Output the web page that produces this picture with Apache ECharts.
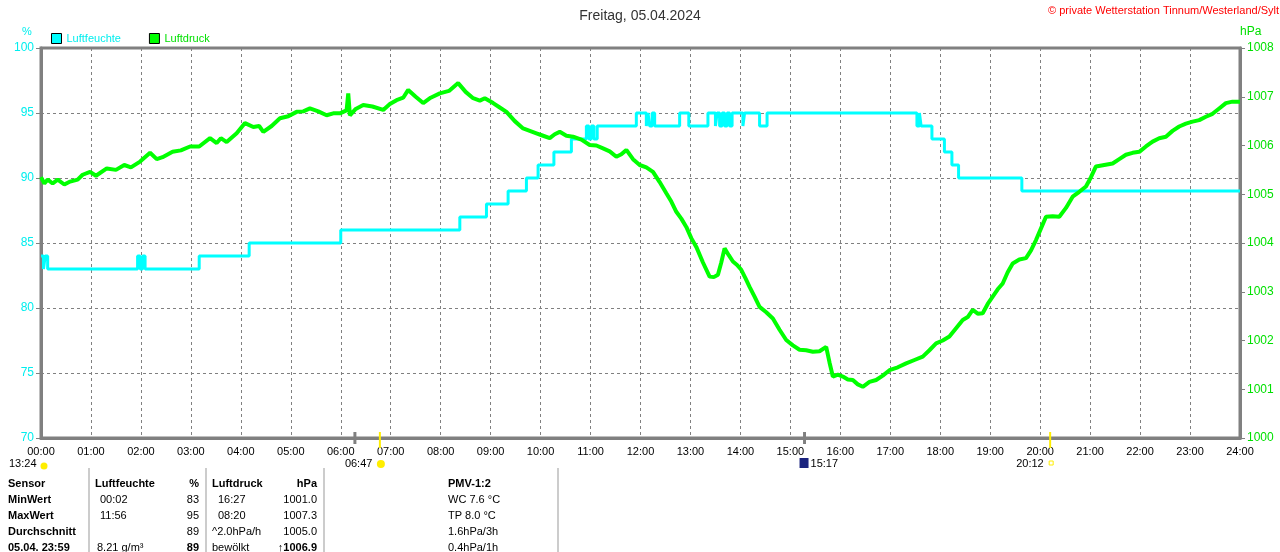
<!DOCTYPE html>
<html>
<head>
<meta charset="utf-8">
<script src="https://cdn.jsdelivr.net/npm/echarts@6/dist/echarts.min.js"></script>
<style>
  html, body { margin: 0; padding: 0; background: #fff; }
  #main { width: 1280px; height: 552px; }
</style>
</head>
<body>
<div id="main"></div>
<script>
// Luftfeuchte: [minute of day, %] - value holds until next point
var humidity = [
  [0, 84], [3, 83], [5, 84], [8, 83], [116, 84], [119, 83], [122, 84], [125, 83],
  [190, 84], [250, 85], [360, 86], [503, 87], [535, 88], [561, 89], [583, 90],
  [597, 91], [616, 92], [637, 93], [655, 94], [658, 93], [661, 94], [664, 93],
  [668, 94], [715, 95], [727, 94], [729, 95], [731, 94], [734, 95], [737, 94],
  [767, 95], [778, 94], [801, 95], [810, 94], [812, 95], [815, 94], [818, 95],
  [821, 94], [824, 95], [827, 94], [830, 95], [843, 94], [845, 95], [863, 94],
  [872, 95], [1052, 94], [1055, 95], [1057, 94], [1070, 93], [1085, 92],
  [1094, 91], [1102, 90], [1178, 89], [1440, 89]
];

// Luftdruck: [minute of day, hPa]
var pressure = [
  [0, 1005.35], [4, 1005.22], [8, 1005.3], [14, 1005.22], [20, 1005.3], [28, 1005.2],
  [35, 1005.26], [44, 1005.3], [50, 1005.4], [59, 1005.46], [66, 1005.38], [79, 1005.53],
  [90, 1005.5], [100, 1005.6], [108, 1005.55], [119, 1005.67], [131, 1005.85], [139, 1005.72],
  [146, 1005.76], [158, 1005.87], [168, 1005.9], [179, 1005.98], [190, 1005.98], [203, 1006.15],
  [211, 1006.05], [216, 1006.15], [223, 1006.07], [235, 1006.25], [245, 1006.46], [255, 1006.38],
  [262, 1006.4], [267, 1006.28], [277, 1006.4], [287, 1006.56], [297, 1006.6], [307, 1006.69],
  [315, 1006.7], [323, 1006.76], [333, 1006.7], [343, 1006.62], [351, 1006.66], [359, 1006.66],
  [367, 1006.72], [369, 1007.07], [371, 1006.62], [378, 1006.75], [387, 1006.83], [398, 1006.8],
  [411, 1006.73], [419, 1006.85], [427, 1006.93], [435, 1006.98], [441, 1007.14], [450, 1007.0],
  [459, 1006.87], [468, 1006.98], [479, 1007.07], [490, 1007.12], [501, 1007.28], [510, 1007.1],
  [519, 1006.97], [527, 1006.92], [533, 1006.97], [543, 1006.87], [551, 1006.78], [559, 1006.69],
  [569, 1006.5], [579, 1006.35], [587, 1006.3], [595, 1006.25], [603, 1006.2], [611, 1006.15],
  [617, 1006.23], [623, 1006.28], [631, 1006.2], [639, 1006.18], [649, 1006.12], [659, 1006.01],
  [667, 1006.0], [675, 1005.94], [683, 1005.88], [691, 1005.77], [697, 1005.82], [703, 1005.91],
  [711, 1005.72], [719, 1005.6], [727, 1005.55], [735, 1005.46], [743, 1005.25], [751, 1005.02],
  [757, 1004.85], [763, 1004.64], [769, 1004.5], [775, 1004.33], [781, 1004.1], [787, 1003.92],
  [795, 1003.6], [803, 1003.31], [808, 1003.3], [813, 1003.35], [817, 1003.6], [821, 1003.89],
  [826, 1003.75], [831, 1003.62], [836, 1003.55], [841, 1003.45], [846, 1003.28], [851, 1003.1],
  [857, 1002.9], [863, 1002.69], [871, 1002.58], [879, 1002.45], [887, 1002.22], [895, 1002.01],
  [903, 1001.9], [911, 1001.81], [919, 1001.8], [927, 1001.77], [935, 1001.78], [943, 1001.87],
  [947, 1001.55], [951, 1001.26], [957, 1001.3], [963, 1001.26], [969, 1001.2], [975, 1001.19],
  [981, 1001.1], [987, 1001.05], [995, 1001.15], [1003, 1001.19], [1011, 1001.28], [1019, 1001.39],
  [1029, 1001.45], [1039, 1001.53], [1049, 1001.6], [1059, 1001.67], [1067, 1001.8], [1075, 1001.94],
  [1083, 1002.0], [1091, 1002.08], [1099, 1002.25], [1107, 1002.42], [1113, 1002.48], [1119, 1002.63],
  [1125, 1002.55], [1131, 1002.56], [1137, 1002.75], [1143, 1002.9], [1149, 1003.05], [1155, 1003.17],
  [1161, 1003.4], [1167, 1003.58], [1175, 1003.66], [1183, 1003.69], [1189, 1003.85], [1195, 1004.06],
  [1201, 1004.3], [1207, 1004.54], [1215, 1004.55], [1223, 1004.54], [1231, 1004.72], [1239, 1004.95],
  [1247, 1005.05], [1255, 1005.16], [1261, 1005.35], [1267, 1005.57], [1277, 1005.6], [1287, 1005.63],
  [1295, 1005.72], [1303, 1005.81], [1311, 1005.85], [1319, 1005.87], [1327, 1005.98], [1335, 1006.08],
  [1343, 1006.15], [1351, 1006.18], [1359, 1006.3], [1367, 1006.39], [1375, 1006.45], [1383, 1006.49],
  [1391, 1006.52], [1399, 1006.59], [1407, 1006.65], [1415, 1006.76], [1423, 1006.87], [1431, 1006.9],
  [1440, 1006.9]
];

// sun / moon events on the time axis: [minute, label, colour]
var events = [
  [377, '', '#808080'],
  [407, '06:47', '#ffee00'],
  [917, '15:17', '#808080'],
  [1212, '20:12', '#ffee00']
];

// table below the chart
var tableRows = ['Sensor', 'MinWert', 'MaxWert', 'Durchschnitt', '05.04. 23:59'];
var humTime = ['Luftfeuchte', '00:02', '11:56', '', '8.21 g/m³'];
var humVal = ['%', '83', '95', '89', '89'];
var presTime = ['Luftdruck', '16:27', '08:20', '^2.0hPa/h', 'bewölkt'];
var presVal = ['hPa', '1001.0', '1007.3', '1005.0', '\u21911006.9'];
var pmv = ['PMV-1:2', 'WC 7.6 °C', 'TP 8.0 °C', '1.6hPa/3h', '0.4hPa/1h'];

var FONT = 'Liberation Sans, Arial, sans-serif';
var CYAN = '#00ffff';
var GREEN = '#00ff00';

var chart = echarts.init(document.getElementById('main'));

function pad(n) { return (n < 10 ? '0' : '') + n; }

var option = {
  animation: false,
  backgroundColor: '#fff',
  textStyle: { fontFamily: FONT },
  title: {
    text: 'Freitag, 05.04.2024',
    left: 'center',
    top: 4,
    textStyle: { fontSize: 14, fontWeight: 'normal', color: '#333', fontFamily: FONT }
  },
  legend: {
    left: 46,
    top: 28,
    itemWidth: 10,
    itemHeight: 10,
    itemGap: 28,
    icon: 'rect',
    data: [
      { name: 'Luftfeuchte', textStyle: { color: '#00eeee' } },
      { name: 'Luftdruck', textStyle: { color: '#00e000' } }
    ],
    textStyle: { fontSize: 11, fontFamily: FONT },
    itemStyle: { borderColor: '#000', borderWidth: 1 }
  },
  grid: {
    left: 41, right: 40, top: 48, bottom: 114,
    show: true, borderColor: '#808080', borderWidth: 3
  },
  xAxis: {
    type: 'value',
    min: 0, max: 1440, interval: 60,
    axisLine: { show: true, lineStyle: { color: '#808080', width: 3 } },
    axisTick: { show: false },
    axisLabel: {
      color: '#000', fontSize: 11, margin: 8,
      formatter: function (v) { return pad(Math.round(v / 60)) + ':00'; }
    },
    splitLine: { show: true, lineStyle: { color: '#808080', type: [3, 3], width: 1 } }
  },
  yAxis: [{
    type: 'value',
    min: 70, max: 100, interval: 5,
    position: 'left',
    axisLine: { show: true, lineStyle: { color: '#808080', width: 3 } },
    axisTick: { show: true, length: 5, lineStyle: { color: '#808080' } },
    axisLabel: { color: '#00eeee', fontSize: 12, margin: 7 },
    splitLine: { show: true, lineStyle: { color: '#808080', type: [3, 3], width: 1 } }
  }, {
    type: 'value',
    min: 1000, max: 1008, interval: 1,
    position: 'right',
    axisLine: { show: true, lineStyle: { color: '#808080', width: 3 } },
    axisTick: { show: true, length: 5, lineStyle: { color: '#808080' } },
    axisLabel: { color: '#00e000', fontSize: 12, margin: 7,
      formatter: function (v) { return String(v); } },
    splitLine: { show: false }
  }],
  series: [{
    name: 'Luftfeuchte',
    type: 'line',
    yAxisIndex: 0,
    step: 'end',
    showSymbol: false,
    data: humidity,
    itemStyle: { color: CYAN },
    lineStyle: { color: CYAN, width: 3 },
    z: 3
  }, {
    name: 'Luftdruck',
    type: 'line',
    yAxisIndex: 1,
    showSymbol: false,
    data: pressure,
    itemStyle: { color: GREEN },
    lineStyle: { color: GREEN, width: 4 },
    z: 4
  }]
};
chart.setOption(option);

// extra texts, event markers and table
var g = [];
g.push({ type: 'text', left: 1048, top: 5,
  style: { text: '© private Wetterstation Tinnum/Westerland/Sylt', fill: '#ff0000', font: '11px ' + FONT } });
g.push({ type: 'text', left: 22, top: 26, style: { text: '%', fill: '#00eeee', font: '11px ' + FONT } });
g.push({ type: 'text', left: 1240, top: 26, style: { text: 'hPa', fill: '#00e000', font: '12px ' + FONT } });

// moon event at left
g.push({ type: 'text', left: 9, top: 458, style: { text: '13:24', fill: '#000', font: '11px ' + FONT } });
g.push({ type: 'circle', shape: { cx: 44, cy: 466, r: 3.5 }, style: { fill: '#ffee00' } });

events.forEach(function (e) {
  var x = chart.convertToPixel({ xAxisIndex: 0 }, e[0]);
  var yel = e[2] !== '#808080';
  g.push({ type: 'line', shape: { x1: x, y1: 432, x2: x, y2: yel ? 448 : 444 },
    style: { stroke: e[2], lineWidth: yel ? 2 : 3 }, z: 10 });
  if (e[1] === '06:47') {
    g.push({ type: 'text', left: x - 35, top: 458, style: { text: e[1], fill: '#000', font: '11px ' + FONT } });
    g.push({ type: 'circle', shape: { cx: x + 1, cy: 464, r: 4 }, style: { fill: '#ffee00' } });
  } else if (e[1] === '15:17') {
    g.push({ type: 'rect', shape: { x: x - 5, y: 458, width: 9, height: 10 }, style: { fill: '#1a237e' } });
    g.push({ type: 'text', left: x + 6, top: 458, style: { text: e[1], fill: '#000', font: '11px ' + FONT } });
  } else if (e[1] === '20:12') {
    g.push({ type: 'text', left: x - 34, top: 458, style: { text: e[1], fill: '#000', font: '11px ' + FONT } });
    g.push({ type: 'rect', shape: { x: x - 1, y: 461, width: 4, height: 4 }, style: { fill: 'none', stroke: '#ffee00' } });
  }
});

// table separators
[89, 206, 324, 558].forEach(function (x) {
  g.push({ type: 'line', shape: { x1: x, y1: 468, x2: x, y2: 552 }, style: { stroke: '#999', lineWidth: 1 } });
});

tableRows.forEach(function (r, i) {
  var y = 478 + i * 16;
  var bold = 'bold 11px ' + FONT;
  var norm = '11px ' + FONT;
  var head = i === 0;
  var last = i === 4;
  g.push({ type: 'text', left: 8, top: y, style: { text: r, fill: '#000', font: bold } });
  g.push({ type: 'text', left: head ? 95 : (last ? 97 : 100), top: y,
    style: { text: humTime[i], fill: '#000', font: head ? bold : norm } });
  g.push({ type: 'text', right: 1280 - 199, top: y,
    style: { text: humVal[i], fill: '#000', font: (head || last) ? bold : norm } });
  g.push({ type: 'text', left: (head || i === 3 || last) ? 212 : 218, top: y,
    style: { text: presTime[i], fill: '#000', font: head ? bold : norm } });
  g.push({ type: 'text', right: 1280 - 317, top: y,
    style: { text: presVal[i], fill: '#000', font: (head || last) ? bold : norm } });
  g.push({ type: 'text', left: 448, top: y,
    style: { text: pmv[i], fill: '#000', font: head ? bold : norm } });
});

chart.setOption({ graphic: g });
</script>
</body>
</html>
